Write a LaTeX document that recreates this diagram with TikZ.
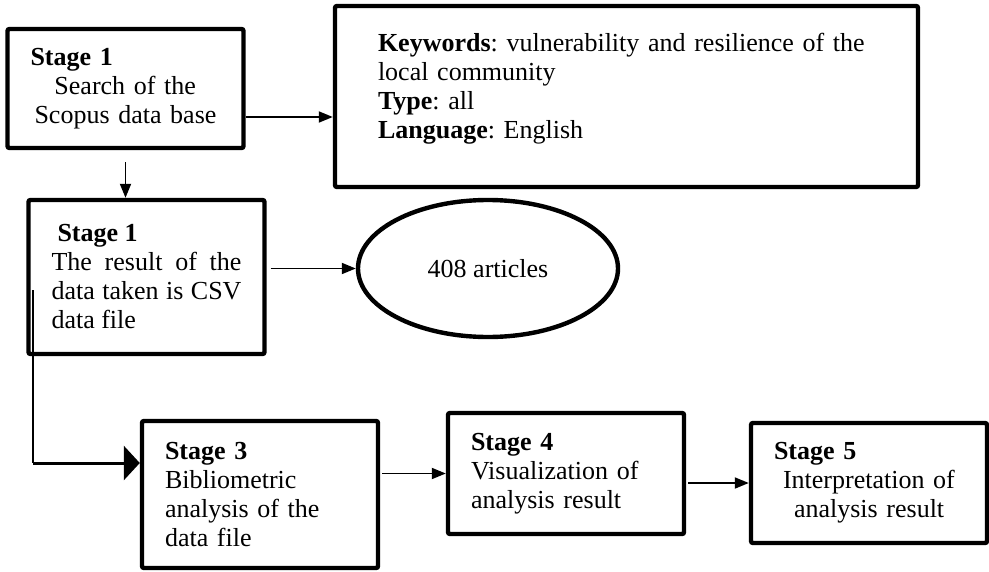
\documentclass[tikz,border=0pt]{standalone}
\usepackage{fontspec}
\setmainfont{Liberation Serif}
\usetikzlibrary{arrows.meta,shapes.geometric}
\frenchspacing

\begin{document}
\begin{tikzpicture}[
    x=0.5pt, y=-0.5pt,
    stagebox/.style={draw, line width=2.2pt, rounded corners=1pt, align=left, inner xsep=11.5pt, text width=95pt, font=\fontsize{13}{14.5}\selectfont},
    kwbox/.style={draw, line width=2.2pt, rounded corners=1pt, align=left, inner xsep=21.5pt, text width=248.5pt, font=\fontsize{13}{14.5}\selectfont},
    countbox/.style={draw, ellipse, line width=2.2pt, inner sep=0pt, font=\fontsize{13}{14.5}\selectfont},
    arr/.style={-{Triangle[length=7pt, width=5.5pt]}, line width=0.9pt},
    bigarr/.style={-{Triangle[length=8pt, width=17pt]}, line width=1.5pt}
    ]
    \useasboundingbox (0,0) rectangle (989,572);
    \node[stagebox, minimum height=59.5pt] (search) at (125.5,88.5) {\textbf{Stage 1}\\\hspace*{12pt}Search of the\\\hspace*{2pt}Scopus data base};
    \node[kwbox, minimum width=291.5pt, minimum height=90.5pt, text depth=54pt] (kw) at (626.5,96.5)
      {\textbf{Keywords}: vulnerability and resilience of the\\local community\\\textbf{Type}: all\\\textbf{Language}: English};
    \node[stagebox, align=justify, minimum height=77pt] (result) at (146.5,277)
      {\hspace*{3pt}\textbf{Stage 1}\\The result of the\linebreak data taken is CSV\linebreak data file};
    \node[countbox, minimum width=130pt, minimum height=68.5pt] (art) at (488,268.5) {408 articles};
    \node[stagebox, minimum height=73.5pt] (biblio) at (260,494.5) {\textbf{Stage 3}\\Bibliometric\\analysis of the\\data file};
    \node[stagebox, minimum height=60.5pt] (visual) at (566,473.5) {\textbf{Stage 4}\\Visualization of\\analysis result};
    \node[stagebox, minimum height=60pt] (interp) at (869,483) {\textbf{Stage 5}\\\hspace*{4.5pt}Interpretation of\\\hspace*{10pt}analysis result};
    \coordinate (tap) at (33,290);
    \coordinate (bend) at (33,463);

    \draw[arr] ([yshift=-14.25pt]search.east) -- ([yshift=-14.25pt]search.east -| kw.west);
    \draw[arr] ([yshift=-6pt]search.south) -- (search.south |- result.north);
    \draw[arr] ([xshift=2pt]result.east |- art.west) -- (art.west);
    \draw[line width=0.8pt] (tap) -- (bend);
    \draw[bigarr] (bend) -- (bend -| biblio.west);
    \draw[arr] ([xshift=1pt]biblio.east |- visual.west) -- (visual.west);
    \draw[arr] ([xshift=1pt]visual.east |- interp.west) -- (interp.west);
  \end{tikzpicture}
\end{document}
